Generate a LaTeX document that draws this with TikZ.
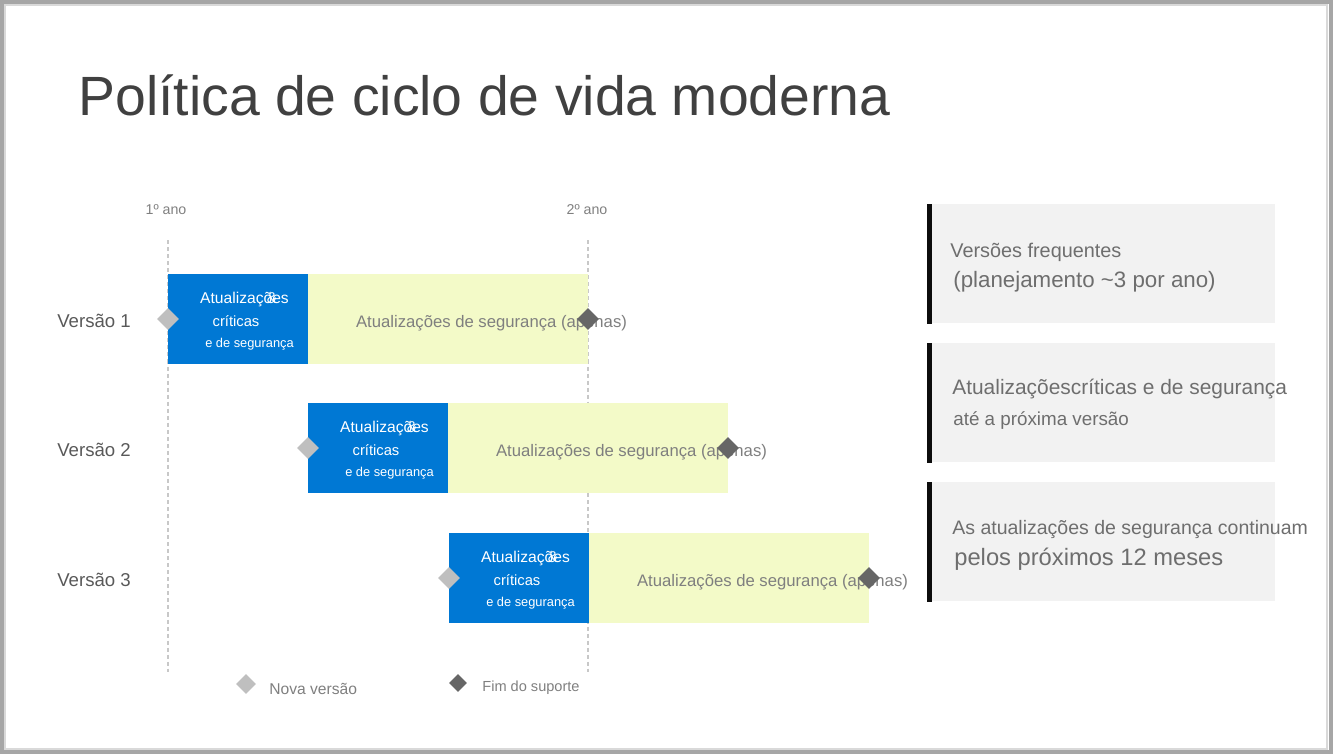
\documentclass[tikz,border=0pt]{standalone}
\usepackage{fontspec}
\setmainfont{Liberation Sans}
\usetikzlibrary{shapes.geometric}

\definecolor{framegray}{HTML}{A6A6A6}
\definecolor{framelight}{HTML}{D9D9D9}
\definecolor{titlegray}{HTML}{404040}
\definecolor{labelgray}{HTML}{595959}
\definecolor{textgray}{HTML}{7F7F7F}
\definecolor{notetext}{HTML}{6E6E6E}
\definecolor{msblue}{HTML}{0078D4}
\definecolor{secyellow}{HTML}{F3FAC8}
\definecolor{lightdia}{HTML}{BFBFBF}
\definecolor{darkdia}{HTML}{666666}
\definecolor{linegray}{HTML}{C8C8C8}
\definecolor{notegray}{HTML}{F2F2F2}

\begin{document}
\begin{tikzpicture}
  [x=0.02cm,y=-0.02cm,every node/.style={inner sep=0pt},
   crit/.style={fill=msblue,minimum width=2.8cm,minimum height=1.8cm,anchor=north west},
   secu/.style={fill=secyellow,minimum width=5.6cm,minimum height=1.8cm,anchor=north west},
   newrel/.style={diamond,fill=lightdia,minimum width=0.44cm,minimum height=0.44cm},
   endsup/.style={diamond,fill=darkdia,minimum width=0.44cm,minimum height=0.44cm},
   note/.style={fill=notegray,minimum width=6.96cm,minimum height=2.38cm,anchor=north west},
   yearline/.style={draw=linegray,line width=0.6pt,dash pattern=on 2.3pt off 1.7pt},
   yearlbl/.style={anchor=base,text=textgray,font=\fontsize{8.1}{10}\selectfont},
   rowlbl/.style={anchor=base west,text=labelgray,font=\fontsize{10.6}{12}\selectfont},
   bluetxt/.style={anchor=base,text=white},
   sectxt/.style={anchor=base,text=textgray,font=\fontsize{9.5}{11}\selectfont},
   notetxt/.style={anchor=base west,text=notetext},
   legtxt/.style={anchor=base west,text=textgray}]
  \useasboundingbox (0,0) rectangle (1333,754);

  % frame
  \draw[framegray,line width=0.08cm] (2,2) rectangle (1330.5,752);
  \draw[framelight,line width=0.04cm] (5,5) rectangle (1327,749);

  \node[anchor=base west,text=titlegray,font=\fontsize{31.5}{36}\selectfont]
    (title) at (78,115) {Política de ciclo de vida moderna};

  % years
  \node[yearlbl] (year1) at (166,214) {1º ano};
  \node[yearlbl] (year2) at (587,214) {2º ano};
  \coordinate (top1) at (168,240);
  \coordinate (bot1) at (168,672);
  \coordinate (top2) at (588,240);
  \coordinate (bot2) at (588,672);
  \foreach \from/\to in {top1/bot1,top2/bot2}
    \draw[yearline] (\from) -- (\to);

  % releases
  \foreach \n/\x/\y in {1/168/274,2/308/403,3/449/533} {
    \node[rowlbl] (rel\n) at (57,{\y+53}) {Versão \n};
    \node[crit] (crit\n) at (\x,\y) {};
    \node[secu] (secu\n) at ({\x+140},\y) {};
    \node[bluetxt,font=\fontsize{8.9}{10}\selectfont] (upd\n) at ({\x+76.5},{\y+29}) {Atualizações};
    \node[bluetxt,font=\fontsize{8.9}{10}\selectfont] (amp\n) at ({\x+104},{\y+29}) {\&};
    \node[bluetxt,font=\fontsize{8.4}{10}\selectfont] (crt\n) at ({\x+68},{\y+52}) {críticas};
    \node[bluetxt,font=\fontsize{7.3}{9}\selectfont] (seg\n) at ({\x+81.5},{\y+73}) {e de segurança};
    \node[sectxt] (only\n) at ({\x+323.5},{\y+53}) {Atualizações de segurança (apenas)};
    \node[newrel] (new\n) at (\x,{\y+45}) {};
    \node[endsup] (end\n) at ({\x+420},{\y+45}) {};
  }

  % notes
  \foreach \n/\y in {1/204,2/343,3/482} {
    \node[note] (note\n) at (927,\y) {};
    \draw[black!95,line width=0.1cm] ([xshift=0.05cm]note\n.north west) -- ([xshift=0.05cm]note\n.south west);
  }
  \node[notetxt,font=\fontsize{11.3}{13}\selectfont] (n1a) at (950,257) {Versões frequentes};
  \node[notetxt,font=\fontsize{12.7}{15}\selectfont] (n1b) at (953,287) {(planejamento \textasciitilde3 por ano)};
  \node[notetxt,font=\fontsize{11.9}{14}\selectfont] (n2a) at (952,394) {Atualizaçõescríticas e de segurança};
  \node[notetxt,font=\fontsize{10.7}{13}\selectfont] (n2b) at (953,425) {até a próxima versão};
  \node[notetxt,font=\fontsize{11.1}{13}\selectfont] (n3a) at (952,534) {As atualizações de segurança continuam};
  \node[notetxt,font=\fontsize{13.5}{16}\selectfont] (n3b) at (954,565) {pelos próximos 12 meses};

  % legend
  \node[newrel,minimum width=0.4cm,minimum height=0.4cm] (legnew) at (246,684) {};
  \node[legtxt,font=\fontsize{8.9}{10}\selectfont] (legnewtxt) at (269,694) {Nova versão};
  \node[endsup,minimum width=0.36cm,minimum height=0.36cm] (legend) at (458,683) {};
  \node[legtxt,font=\fontsize{8.3}{10}\selectfont] (legendtxt) at (482,691) {Fim do suporte};

\end{tikzpicture}
\end{document}
